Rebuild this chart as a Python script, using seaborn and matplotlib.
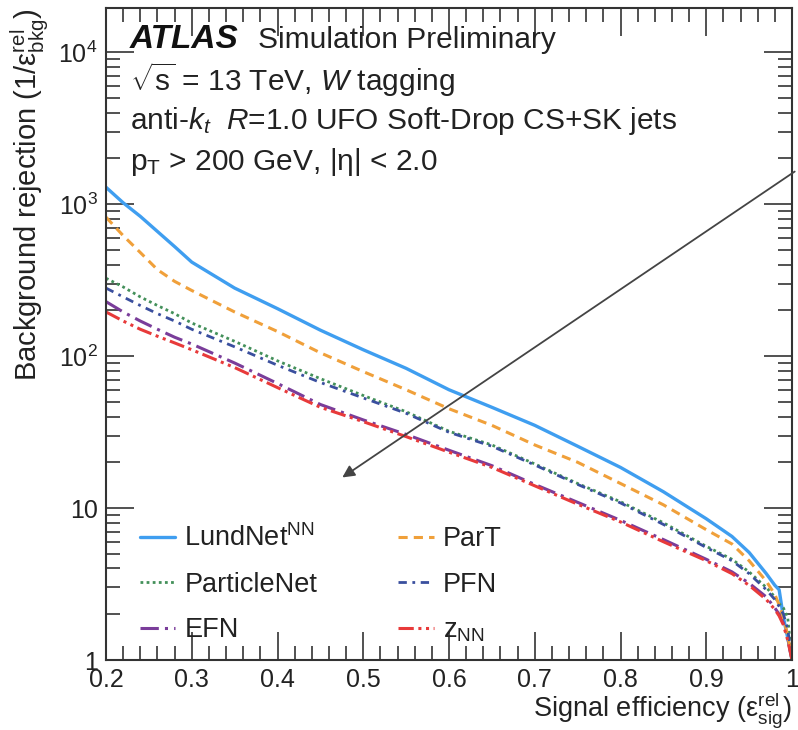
import numpy as np
import pandas as pd
import matplotlib
matplotlib.use("Agg")
import matplotlib.pyplot as plt
import matplotlib.ticker as mticker
import seaborn as sns

# ---------------- data ----------------
sig_eff = [0.20, 0.22, 0.24, 0.26, 0.28, 0.30, 0.35, 0.40, 0.45, 0.50, 0.55,
           0.60, 0.65, 0.70, 0.75, 0.80, 0.85, 0.90, 0.93, 0.95, 0.97, 0.98,
           0.985, 0.99, 0.995, 1.0]

lundnet = [1290, 1020, 830, 660, 525, 415, 280, 205, 148, 110, 83,
           60, 46, 35, 25.5, 18.5, 12.8, 8.5, 6.5, 5.1, 3.7, 3.1,
           2.9, 1.9, 1.4, 1.0]
part = [820, 620, 480, 370, 310, 270, 195, 145, 105, 79, 60,
        45, 35, 26, 20, 14.5, 10.5, 7.2, 5.8, 4.5, 3.3, 2.7,
        2.3, 1.9, 1.45, 1.0]
particlenet = [325, 285, 245, 215, 190, 165, 125, 93, 71, 55, 43,
               32, 26, 19.5, 14.5, 11, 8.0, 5.6, 4.6, 3.8, 3.0, 2.6,
               2.35, 2.2, 1.9, 1.0]
pfn = [280, 245, 215, 190, 170, 150, 115, 87, 67, 53, 42,
       31.5, 25.5, 19.2, 14.3, 10.8, 7.8, 5.5, 4.5, 3.7, 2.9, 2.5,
       2.25, 2.0, 1.6, 1.0]
efn = [228, 195, 170, 150, 133, 120, 90, 66, 48, 38, 30.5,
       24, 19, 14.3, 10.9, 8.3, 6.2, 4.6, 3.8, 3.2, 2.6, 2.2,
       2.0, 1.75, 1.4, 1.0]
znn = [195, 170, 150, 135, 122, 110, 84, 62, 46, 37, 29.5,
       23.3, 18.5, 14.0, 10.6, 8.1, 6.0, 4.5, 3.7, 3.1, 2.5, 2.15,
       1.95, 1.7, 1.35, 1.0]

labels = ["LundNet$^{\\mathrm{NN}}$", "ParticleNet", "EFN", "ParT", "PFN", "z$_{\\mathrm{NN}}$"]
series = [lundnet, particlenet, efn, part, pfn, znn]
colors = ["#3f9ef0", "#43905a", "#7a3d9a", "#f0a03a", "#3a4f9e", "#e83a3a"]
styles = ["-", (0, (1, 1.2)), (0, (6, 2, 1, 2)), (0, (3, 2)), (0, (3, 2, 1, 2)), (0, (5, 1.5, 1, 1.5, 1, 1.5))]
widths = [2.4, 2.0, 2.2, 2.2, 2.0, 2.2]

y_ticks = [1, 10, 100, 1000, 10000]
y_ticklabels = ["1", "10", "$10^{2}$", "$10^{3}$", "$10^{4}$"]
x_ticks = [0.2, 0.3, 0.4, 0.5, 0.6, 0.7, 0.8, 0.9, 1.0]
x_ticklabels = ["0.2", "0.3", "0.4", "0.5", "0.6", "0.7", "0.8", "0.9", "1"]

# ---------------- style ----------------
sns.set_theme(style="ticks")
plt.rcParams["font.family"] = ["Liberation Sans", "DejaVu Sans"]
plt.rcParams["mathtext.fontset"] = "custom"
plt.rcParams["mathtext.rm"] = "Liberation Sans"
plt.rcParams["mathtext.it"] = "Liberation Sans:italic"
plt.rcParams["mathtext.bf"] = "Liberation Sans:bold"

fig = plt.figure(figsize=(7.98, 7.30), dpi=100)
ax = fig.add_axes([106 / 798, 70 / 730, 686 / 798, 652 / 730])

for lab, ys, c, ls, lw in zip(labels, series, colors, styles, widths):
    df = pd.DataFrame({"eff": sig_eff, "rej": ys})
    sns.lineplot(data=df, x="eff", y="rej", ax=ax, color=c, linestyle=ls,
                 linewidth=lw, label=lab, estimator=None, sort=False)

ax.set_yscale("log")
ax.set_xlim(0.2, 1.0)
ax.set_ylim(1, 1.95e4)

ax.xaxis.set_major_locator(mticker.FixedLocator(x_ticks))
ax.xaxis.set_major_formatter(mticker.FixedFormatter(x_ticklabels))
ax.xaxis.set_minor_locator(mticker.MultipleLocator(0.02))
ax.yaxis.set_major_locator(mticker.FixedLocator(y_ticks))
ax.yaxis.set_major_formatter(mticker.FixedFormatter(y_ticklabels))
ax.yaxis.set_minor_locator(mticker.LogLocator(base=10, subs=np.arange(2, 10)))
ax.yaxis.set_minor_formatter(mticker.NullFormatter())

ax.tick_params(which="both", direction="in", top=True, right=True,
               color="#333333", labelsize=18, labelcolor="#222222")
ax.tick_params(which="major", length=20, width=1.2)
ax.tick_params(which="minor", length=10, width=1.2)
ax.tick_params(axis="x", which="major", pad=6)
ax.tick_params(axis="y", which="major", pad=6)
for sp in ax.spines.values():
    sp.set_color("#333333")
    sp.set_linewidth(1.5)

ax.set_xlabel("Signal efficiency ($\\mathrm{\\varepsilon}^{\\mathrm{rel}}_{\\mathrm{sig}}$)",
              fontsize=19.5, loc="right", color="#222222")
ax.xaxis.set_label_coords(1.0, -0.046)
ax.set_ylabel("Background rejection (1/$\\mathrm{\\varepsilon}^{\\mathrm{rel}}_{\\mathrm{bkg}}$)",
              fontsize=21, loc="top", color="#222222")
ax.yaxis.set_label_coords(-0.08, 1.0)

# text block
ax.text(0.035, 0.951, "ATLAS", transform=ax.transAxes, fontsize=24,
        fontweight="bold", fontstyle="italic", va="center", ha="left", color="#111111")
ax.text(0.2216, 0.951, "Simulation Preliminary", transform=ax.transAxes, fontsize=21.5,
        va="center", ha="left", color="#222222")
ax.text(0.035, 0.890, "$\\sqrt{\\mathrm{s}}$ = 13 TeV, $W$ tagging", transform=ax.transAxes,
        fontsize=21.5, va="center", ha="left", color="#222222")
ax.text(0.035, 0.826, "anti-$k_{t}$  $R$=1.0 UFO Soft-Drop CS+SK jets", transform=ax.transAxes,
        fontsize=21.5, va="center", ha="left", color="#222222")
ax.text(0.035, 0.764, "p$_{\\mathrm{T}}$ > 200 GeV, |η| < 2.0", transform=ax.transAxes,
        fontsize=21.5, va="center", ha="left", color="#222222")

leg = ax.legend(loc="lower left", bbox_to_anchor=(0.049, 0.025), ncol=2, frameon=False,
                fontsize=19.5, handlelength=1.3, handletextpad=0.35, columnspacing=3.0,
                labelspacing=0.72, borderpad=0.0, borderaxespad=0.0)
for t in leg.get_texts():
    t.set_color("#222222")

# arrow annotation
fig.patches.append(matplotlib.patches.FancyArrowPatch(
    (797 / 798, 1 - 170 / 730), (340 / 798, 1 - 479 / 730), transform=fig.transFigure,
    arrowstyle="-|>", mutation_scale=18, color="#444444", linewidth=1.3))

fig.savefig("out.png", dpi=100)
